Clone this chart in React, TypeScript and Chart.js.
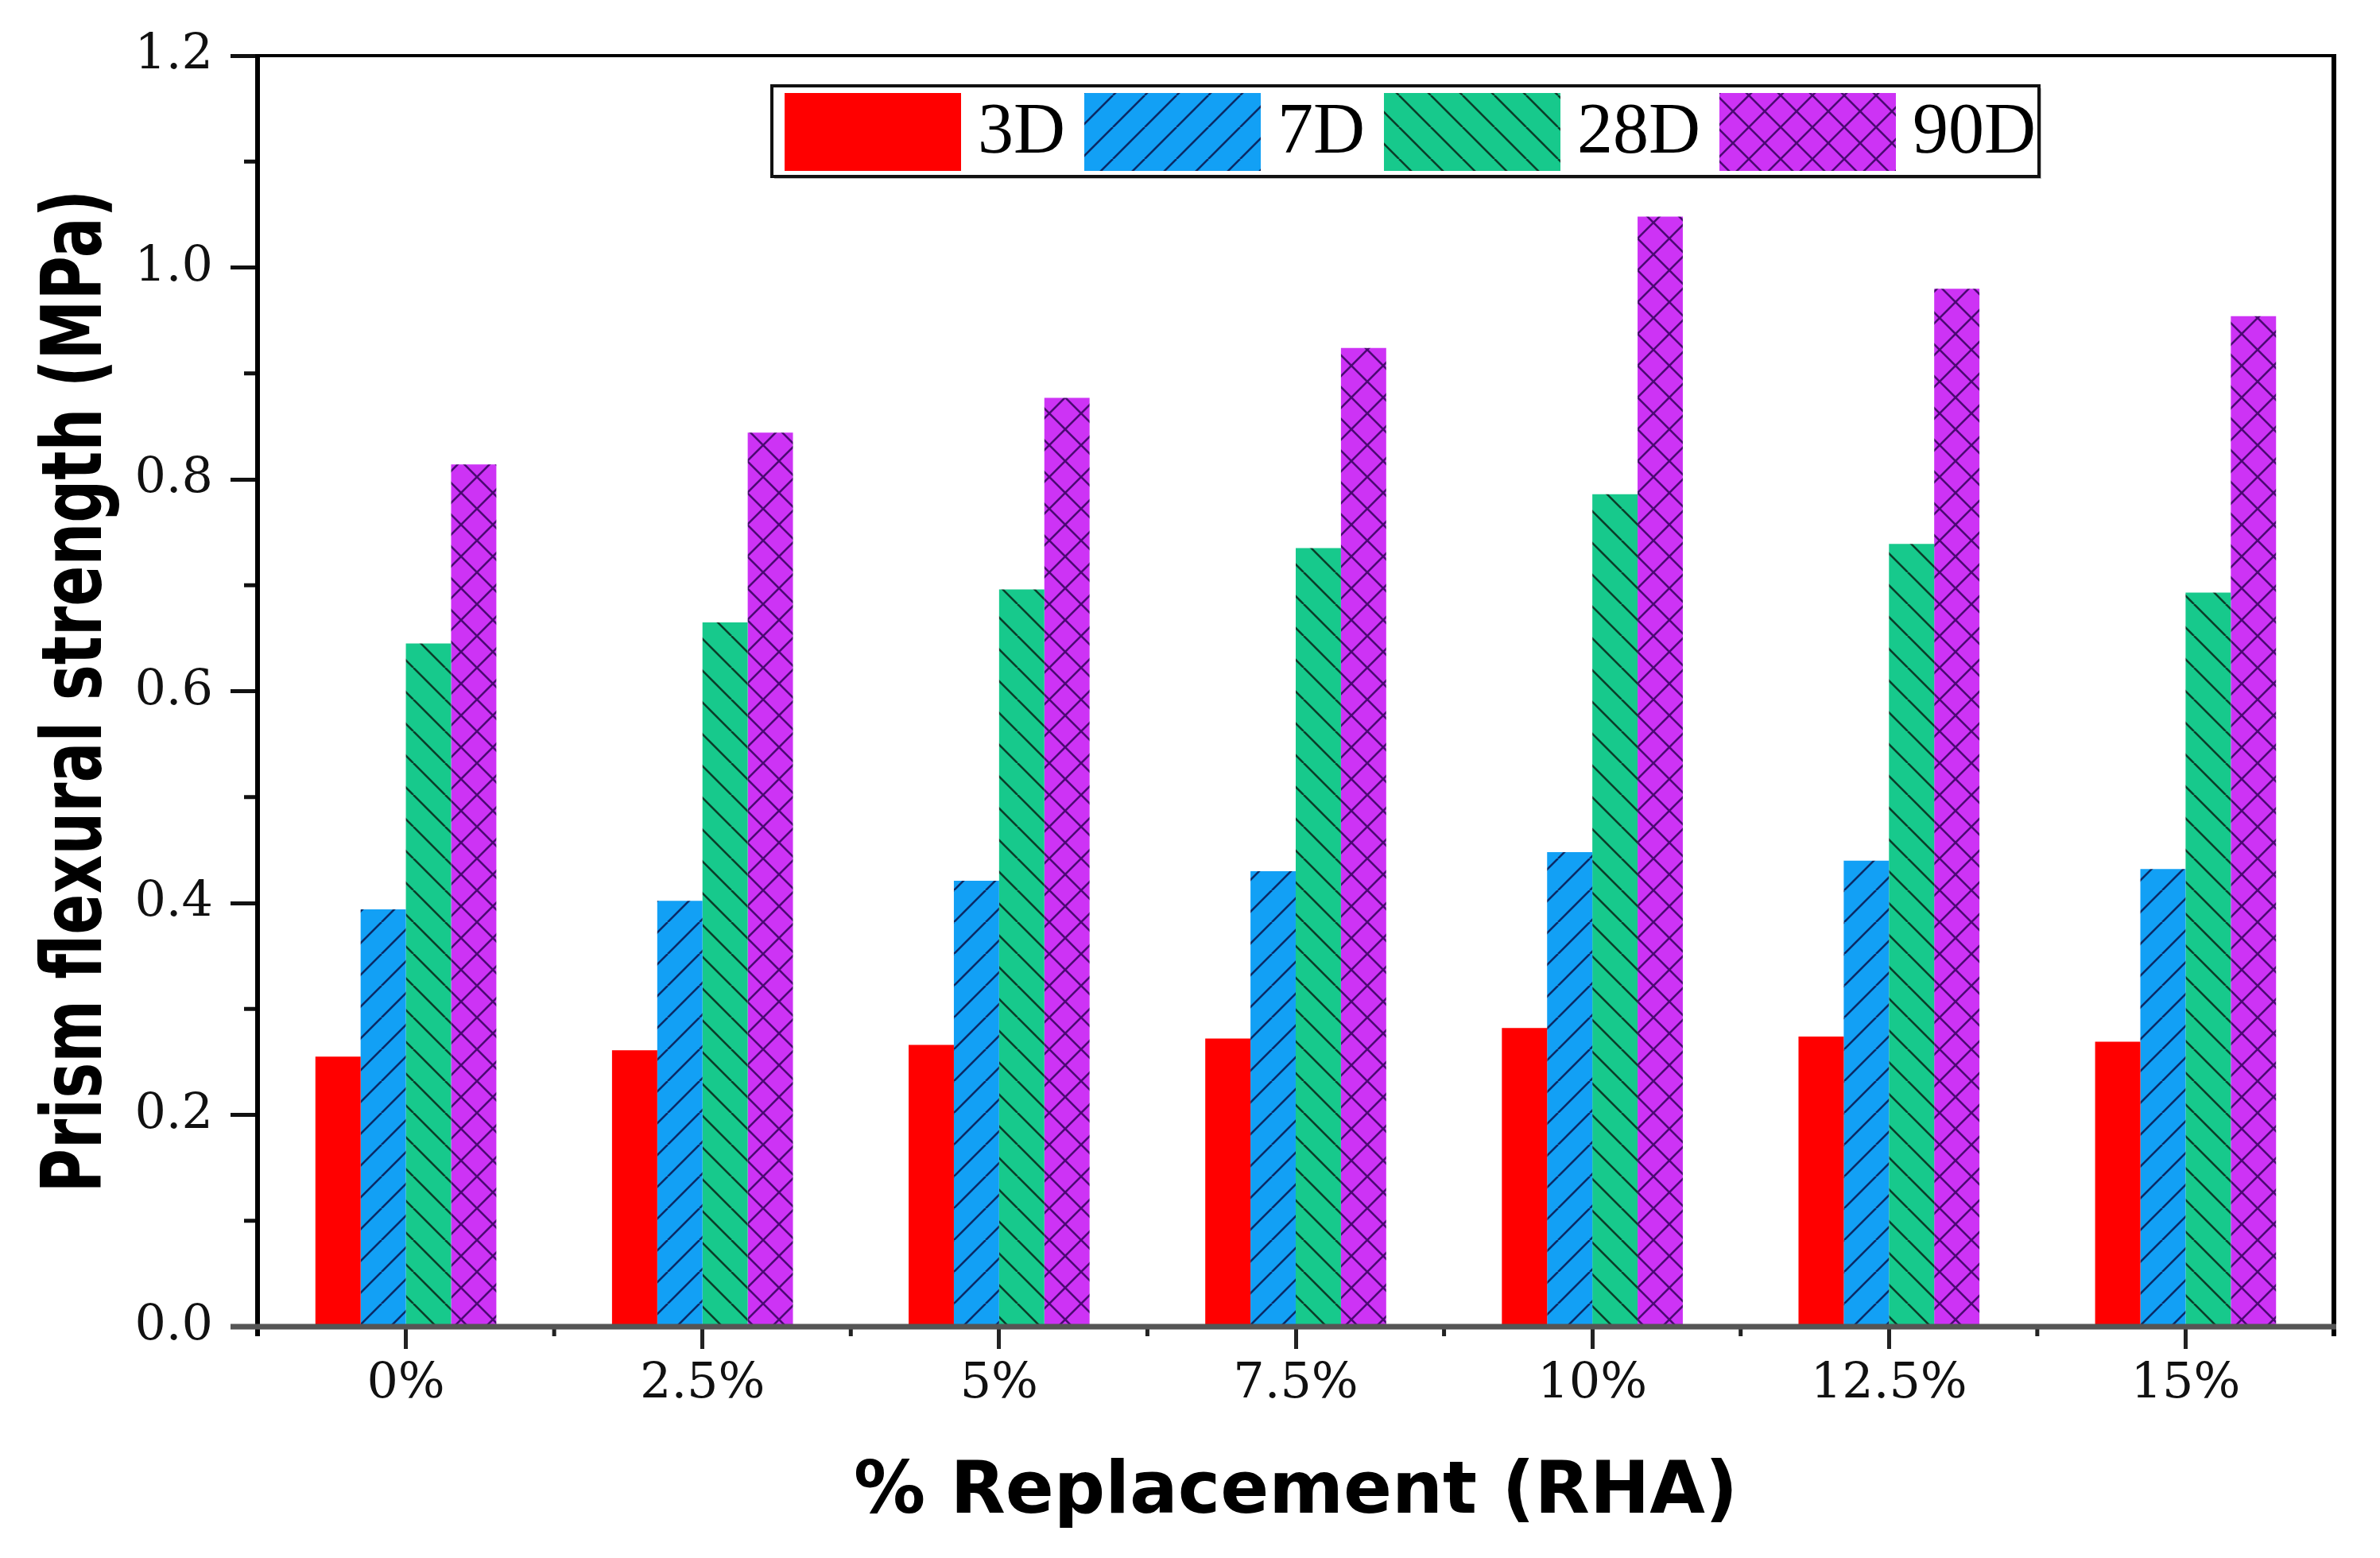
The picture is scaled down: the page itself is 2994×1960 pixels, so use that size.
import React, { useEffect, useRef } from 'react';
import { Chart, registerables } from 'chart.js';

Chart.register(...registerables);

// ---- data ----
const categories = ['0%', '2.5%', '5%', '7.5%', '10%', '12.5%', '15%'];
const seriesLabels = ['3D', '7D', '28D', '90D'];
const values3D = [0.255, 0.261, 0.266, 0.272, 0.282, 0.274, 0.269];
const values7D = [0.394, 0.402, 0.421, 0.43, 0.448, 0.44, 0.432];
const values28D = [0.645, 0.665, 0.696, 0.735, 0.786, 0.739, 0.693];
const values90D = [0.814, 0.844, 0.877, 0.924, 1.048, 0.98, 0.954];
const yMin = 0;
const yMax = 1.2;
const yStep = 0.2;
const xTitle = '% Replacement (RHA)';
const yTitle = 'Prism flexural strength (MPa)';

type Kind = 'solid' | 'fwd' | 'back' | 'cross';

function makeFill(bg: string, line: string, kind: Kind): any {
  if (kind === 'solid') return bg;
  const s = 40;
  const c = document.createElement('canvas');
  c.width = s;
  c.height = s;
  const g = c.getContext('2d')!;
  g.fillStyle = bg;
  g.fillRect(0, 0, s, s);
  g.strokeStyle = line;
  g.lineWidth = 2.6;
  const fwd = () => {
    for (const o of [-s, 0, s]) {
      g.beginPath();
      g.moveTo(o, s);
      g.lineTo(o + s, 0);
      g.stroke();
    }
  };
  const back = () => {
    for (const o of [-s, 0, s]) {
      g.beginPath();
      g.moveTo(o, 0);
      g.lineTo(o + s, s);
      g.stroke();
    }
  };
  if (kind === 'fwd' || kind === 'cross') fwd();
  if (kind === 'back' || kind === 'cross') back();
  return g.createPattern(c, 'repeat');
}

export default function App() {
  const ref = useRef<HTMLCanvasElement | null>(null);

  useEffect(() => {
    document.body.style.margin = '0';
    const canvas = ref.current!;
    const fills = [
      makeFill('#ff0000', '#000', 'solid'),
      makeFill('#12a0f5', '#0b2a66', 'fwd'),
      makeFill('#17c98c', '#0b3d2a', 'back'),
      makeFill('#cd33f5', '#4a0a72', 'cross'),
    ];
    const series = [values3D, values7D, values28D, values90D];

    const decor = {
      id: 'decor',
      afterDatasetsDraw(chart: any) {
        const { ctx, chartArea: a, scales } = chart;
        const xs = scales.x;
        const ys = scales.y;
        ctx.save();
        // minor y ticks
        ctx.strokeStyle = '#111';
        ctx.lineWidth = 5;
        for (let v = yMin + yStep / 2; v < yMax; v += yStep) {
          const y = ys.getPixelForValue(v);
          ctx.beginPath();
          ctx.moveTo(a.left - 17, y);
          ctx.lineTo(a.left, y);
          ctx.stroke();
        }
        // minor x ticks at category boundaries
        ctx.strokeStyle = '#222';
        for (let i = 0; i <= categories.length; i++) {
          const x = xs.getPixelForValue(i - 0.5);
          ctx.beginPath();
          ctx.moveTo(x, a.bottom);
          ctx.lineTo(x, a.bottom + 12);
          ctx.stroke();
        }
        // frame
        ctx.strokeStyle = '#000';
        ctx.lineWidth = 4;
        ctx.beginPath();
        ctx.moveTo(a.left, a.top);
        ctx.lineTo(a.right, a.top);
        ctx.stroke();
        ctx.lineWidth = 6;
        ctx.beginPath();
        ctx.moveTo(a.right, a.top - 2);
        ctx.lineTo(a.right, a.bottom + 12);
        ctx.stroke();
        ctx.beginPath();
        ctx.moveTo(a.left, a.top - 2);
        ctx.lineTo(a.left, a.bottom + 12);
        ctx.stroke();
        ctx.strokeStyle = '#555';
        ctx.lineWidth = 7;
        ctx.beginPath();
        ctx.moveTo(a.left - 34, a.bottom);
        ctx.lineTo(a.right + 3, a.bottom);
        ctx.stroke();

        // legend
        const lx = a.left + 647;
        const ly = a.top + 38;
        ctx.font = '90px "Liberation Serif"';
        const sw = 222;
        const sh = 98;
        let w = 16;
        const tw = seriesLabels.map((t) => ctx.measureText(t).width);
        tw.forEach((t) => (w += sw + 21 + t + 24));
        w -= 20;
        const lh = 114;
        ctx.fillStyle = '#bdbdbd';
        ctx.fillRect(lx + 3, ly + 3, w, lh);
        ctx.fillStyle = '#fff';
        ctx.fillRect(lx, ly, w, lh);
        ctx.strokeStyle = '#111';
        ctx.lineWidth = 4;
        ctx.strokeRect(lx, ly, w, lh);
        let cx = lx + 16;
        const ds = chart.data.datasets;
        ds.forEach((d: any, i: number) => {
          ctx.fillStyle = d.backgroundColor;
          ctx.fillRect(cx, ly + 9, sw, sh);
          cx += sw + 21;
          ctx.fillStyle = '#000';
          ctx.textBaseline = 'middle';
          ctx.textAlign = 'left';
          ctx.fillText(d.label, cx, ly + lh / 2 + 3);
          cx += tw[i] + 24;
        });

        // y title (condensed heavy)
        ctx.save();
        ctx.translate(127, (a.top + a.bottom) / 2 + 0);
        ctx.rotate(-Math.PI / 2);
        ctx.scale(0.72, 1);
        ctx.font = 'bold 105px "DejaVu Sans"';
        ctx.fillStyle = '#000';
        ctx.textAlign = 'center';
        ctx.textBaseline = 'alphabetic';
        ctx.fillText(yTitle, 0, 0);
        ctx.restore();
        ctx.restore();
      },
    };

    const chart = new Chart(canvas, {
      type: 'bar',
      data: {
        labels: categories,
        datasets: seriesLabels.map((l, i) => ({
          label: l,
          data: series[i],
          backgroundColor: fills[i],
          borderWidth: 0,
          categoryPercentage: 0.61,
          barPercentage: 1.0,
        })),
      },
      options: {
        animation: false,
        responsive: false,
        devicePixelRatio: 1,
        layout: { padding: { left: 0, top: 70, right: 58, bottom: 0 } },
        plugins: {
          legend: { display: false },
          tooltip: { enabled: false },
        },
        scales: {
          x: {
            grid: {
              display: true,
              drawOnChartArea: false,
              offset: false,
              tickLength: 28,
              tickWidth: 5,
              tickColor: '#222',
            },
            border: { display: false },
            ticks: {
              font: { family: '"DejaVu Serif"', size: 62 },
              color: '#111',
              padding: 8,
              maxRotation: 0,
              autoSkip: false,
            },
            title: {
              display: true,
              text: xTitle,
              font: { family: '"DejaVu Sans"', size: 90, weight: 'bold' },
              color: '#000',
              padding: { top: 0, bottom: 26 },
            },
            afterFit(scale: any) {
              scale.height = 291;
            },
          },
          y: {
            min: yMin,
            max: yMax,
            grid: {
              display: true,
              drawOnChartArea: false,
              tickLength: 34,
              tickWidth: 5,
              tickColor: '#111',
            },
            border: { display: false },
            ticks: {
              stepSize: yStep,
              font: { family: '"DejaVu Serif"', size: 62 },
              color: '#111',
              padding: 22,
              callback: (v: any) => Number(v).toFixed(1),
            },
            afterFit(scale: any) {
              scale.width = 324;
            },
          },
        },
      },
      plugins: [decor],
    } as any);
    return () => chart.destroy();
  }, []);

  return (
    <div style={{ width: 2994, height: 1960, background: '#fff' }}>
      <canvas ref={ref} width={2994} height={1960} style={{ display: 'block' }} />
    </div>
  );
}
